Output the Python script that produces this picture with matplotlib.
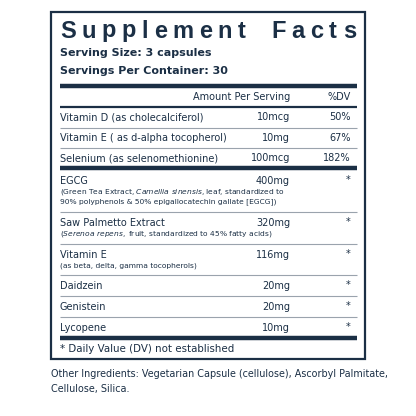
import matplotlib
matplotlib.use("Agg")
import matplotlib.pyplot as plt

NAVY = "#1b2f45"
GRAY = "#9aa3ad"
FONT = ["DejaVu Sans"]

title = "Supplement Facts"
serving_size = "Serving Size: 3 capsules"
servings_per = "Servings Per Container: 30"

vitamins = ["Vitamin D (as cholecalciferol)", "Vitamin E ( as d-alpha tocopherol)",
            "Selenium (as selenomethionine)"]
vitamin_amounts = ["10mcg", "10mg", "100mcg"]
vitamin_dv = ["50%", "67%", "182%"]

others = ["EGCG", "Saw Palmetto Extract", "Vitamin E", "Daidzein", "Genistein", "Lycopene"]
other_notes = [
    ["(Green Tea Extract, $\\it{Camellia\\ sinensis}$, leaf, standardized to",
     "90% polyphenols & 50% epigallocatechin gallate [EGCG])"],
    ["($\\it{Serenoa\\ repens,}$ fruit, standardized to 45% fatty acids)"],
    ["(as beta, delta, gamma tocopherols)"],
    [], [], [],
]
other_amounts = ["400mg", "320mg", "116mg", "20mg", "20mg", "10mg"]
other_dv = ["*", "*", "*", "*", "*", "*"]

footnote = "* Daily Value (DV) not established"
other_ingredients = ["Other Ingredients: Vegetarian Capsule (cellulose), Ascorbyl Palmitate,",
                     "Cellulose, Silica."]

fig = plt.figure(figsize=(4.16, 4.16), dpi=100)
ax = fig.add_axes([0, 0, 1, 1])
ax.set_xlim(0, 416)
ax.set_ylim(416, 0)
ax.axis("off")

L, R = 60, 357
AMT_X, DV_X = 290, 351


def txt(x, y, s, size=7.0, ha="left", **kw):
    return ax.text(x, y, s, fontsize=size, ha=ha, va="center", color=NAVY, family=FONT, **kw)


def hline(y, lw, color=NAVY):
    ax.plot([L, R], [y, y], color=color, lw=lw, solid_capstyle="butt")


# box
ax.add_patch(plt.Rectangle((51, 12), 314, 347, fill=False, ec=NAVY, lw=1.6))

# title, letter spaced to fill the width
renderer = fig.canvas.get_renderer()
chars = []
for ch in title:
    t = ax.text(0, 31, ch if ch != " " else "n", fontsize=17, fontweight="bold", ha="left",
                va="center", color=NAVY, family=["Liberation Sans", "DejaVu Sans"])
    chars.append(t)
widths = [t.get_window_extent(renderer).width for t in chars]
gap = (R - 1 - L - sum(widths)) / (len(title) - 1)
x = L
for ch, t, w in zip(title, chars, widths):
    if ch == " ":
        t.set_visible(False)
    t.set_x(x)
    x += w + gap

txt(L, 53, serving_size, size=8.0, fontweight="bold")
txt(L, 71, servings_per, size=8.0, fontweight="bold")

hline(86, 3.2)
txt(AMT_X, 97, "Amount Per Serving", ha="right")
txt(DV_X, 97, "%DV", ha="right")
hline(107, 1.6)

y = 117
for i, (name, amt, dv) in enumerate(zip(vitamins, vitamin_amounts, vitamin_dv)):
    txt(L, y, name)
    txt(AMT_X, y, amt, ha="right")
    txt(DV_X, y, dv, ha="right")
    if i < len(vitamins) - 1:
        hline(y + 10.5, 0.8, GRAY)
    y += 20.7
hline(168, 3.2)

y = 181
for i, (name, notes, amt, dv) in enumerate(zip(others, other_notes, other_amounts, other_dv)):
    txt(L, y, name)
    txt(AMT_X, y, amt, ha="right")
    txt(DV_X, y - 1, dv, ha="right")
    for j, n in enumerate(notes):
        txt(L, y + 11 + 10 * j, n, size=5.4)
    bottom = y + 10 + 10.5 * len(notes)
    if i < len(others) - 1:
        hline(bottom, 0.8, GRAY)
    y = bottom + 11
hline(338, 3.2)
txt(L, 349, footnote, size=7.4)

txt(51, 374, other_ingredients[0], size=6.9)
txt(51, 389, other_ingredients[1], size=6.9)

fig.savefig("out.png", dpi=100, facecolor="white")
